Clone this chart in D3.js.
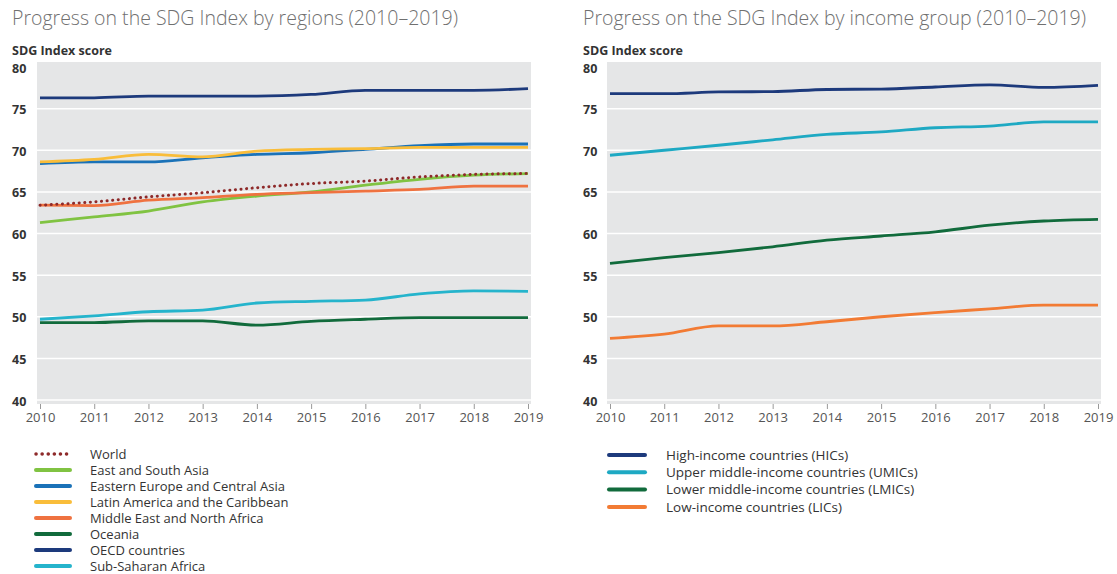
<!DOCTYPE html>
<html>
<head>
<meta charset="utf-8">
<script src="https://cdn.jsdelivr.net/npm/d3@7"></script>
<style>
  body { margin: 0; background: #fff; }
  svg { display: block; font-family: "Open Sans", "Noto Sans", sans-serif; }
</style>
</head>
<body>
<div id="svg-container"></div>
<script>
////////////////////////////////////////////////////////////////////
////////////////////////////  Data  ////////////////////////////////
const years = [2010, 2011, 2012, 2013, 2014, 2015, 2016, 2017, 2018, 2019];
const yTicks = [40, 45, 50, 55, 60, 65, 70, 75, 80];

// regions
const regionNames = [
  "World",
  "East and South Asia",
  "Eastern Europe and Central Asia",
  "Latin America and the Caribbean",
  "Middle East and North Africa",
  "Oceania",
  "OECD countries",
  "Sub-Saharan Africa",
];
const world = [63.4, 63.8, 64.4, 64.9, 65.5, 66.0, 66.3, 66.8, 67.1, 67.2];
const eastSouthAsia = [61.3, 62.0, 62.7, 63.8, 64.5, 65.0, 65.8, 66.5, 67.0, 67.2];
const easternEurope = [68.4, 68.6, 68.6, 69.1, 69.5, 69.7, 70.1, 70.55, 70.75, 70.75];
const latinAmerica = [68.6, 68.9, 69.5, 69.2, 69.9, 70.1, 70.2, 70.35, 70.35, 70.35];
const middleEast = [63.4, 63.35, 64.0, 64.3, 64.7, 64.9, 65.1, 65.3, 65.7, 65.7];
const oceania = [49.3, 49.3, 49.5, 49.5, 49.0, 49.45, 49.7, 49.9, 49.9, 49.9];
const oecd = [76.3, 76.3, 76.5, 76.5, 76.5, 76.7, 77.2, 77.2, 77.2, 77.4];
const subSaharan = [49.7, 50.1, 50.6, 50.8, 51.65, 51.85, 52.0, 52.75, 53.1, 53.05];

// income groups
const incomeNames = [
  "High-income countries (HICs)",
  "Upper middle-income countries (UMICs)",
  "Lower middle-income countries (LMICs)",
  "Low-income countries (LICs)",
];
const hics = [76.8, 76.8, 77.0, 77.05, 77.3, 77.35, 77.6, 77.85, 77.55, 77.8];
const umics = [69.4, 70.0, 70.6, 71.25, 71.9, 72.2, 72.7, 72.9, 73.4, 73.4];
const lmics = [56.4, 57.1, 57.7, 58.4, 59.2, 59.7, 60.2, 61.0, 61.5, 61.7];
const lics = [47.4, 47.9, 48.9, 48.9, 49.4, 50.0, 50.5, 50.95, 51.4, 51.4];

////////////////////////////////////////////////////////////////////
////////////////////////////  Init  ////////////////////////////////
const width = 1117;
const height = 574;

const svg = d3
  .select("#svg-container")
  .append("svg")
  .attr("width", width)
  .attr("height", height);

const colors = {
  world: "#8e2a2a",
  green: "#80c342",
  blue: "#1a72b8",
  yellow: "#f9bd3a",
  orange: "#ef7240",
  darkGreen: "#116b3c",
  navy: "#1d3a7c",
  cyan: "#25b4cc",
};

const leftSeries = [
  { name: regionNames[1], values: eastSouthAsia, color: colors.green },
  { name: regionNames[2], values: easternEurope, color: colors.blue },
  { name: regionNames[3], values: latinAmerica, color: colors.yellow },
  { name: regionNames[4], values: middleEast, color: colors.orange },
  { name: regionNames[5], values: oceania, color: colors.darkGreen },
  { name: regionNames[6], values: oecd, color: colors.navy },
  { name: regionNames[7], values: subSaharan, color: colors.cyan },
  { name: regionNames[0], values: world, color: colors.world, dotted: true },
];
const leftLegend = [leftSeries[7], ...leftSeries.slice(0, 7)];

const rightSeries = [
  { name: incomeNames[0], values: hics, color: colors.navy },
  { name: incomeNames[1], values: umics, color: "#1ea9c3" },
  { name: incomeNames[2], values: lmics, color: colors.darkGreen },
  { name: incomeNames[3], values: lics, color: "#f27b34" },
];

////////////////////////////////////////////////////////////////////
////////////////////////////  Panel  ///////////////////////////////
function drawPanel(opts) {
  const g = svg.append("g");

  const xScale = d3.scaleLinear().domain([2010, 2019]).range([opts.x0, opts.x1]);
  const yScale = d3.scaleLinear().domain([40, 80]).range([400, 67]);

  // title
  g.append("text")
    .attr("x", opts.left)
    .attr("y", 25)
    .attr("fill", "#707070")
    .attr("font-size", 19.5)
    .attr("font-weight", 300)
    .text(opts.title);

  g.append("text")
    .attr("x", opts.left)
    .attr("y", 55)
    .attr("fill", "#333")
    .attr("font-size", 12.5)
    .attr("font-weight", 700)
    .text("SDG Index score");

  // background
  g.append("rect")
    .attr("x", opts.x0 - 3)
    .attr("y", 62)
    .attr("width", opts.x1 - opts.x0 + 6)
    .attr("height", 342)
    .attr("fill", "#e5e6e7");

  // gridlines
  g.selectAll(".grid")
    .data(yTicks.filter((d) => d < 80))
    .enter()
    .append("line")
    .attr("x1", opts.x0 - 3)
    .attr("x2", opts.x1 + 3)
    .attr("y1", (d) => yScale(d))
    .attr("y2", (d) => yScale(d))
    .attr("stroke", "#fff")
    .attr("stroke-width", 1.5);

  // y axis
  const yAxis = g
    .append("g")
    .attr("transform", `translate(${opts.left},0)`)
    .call(d3.axisLeft(yScale).tickValues(yTicks).tickSize(0));
  yAxis.select(".domain").remove();
  yAxis
    .selectAll("text")
    .attr("x", 0)
    .attr("dy", "0.4em")
    .attr("text-anchor", "start")
    .attr("fill", "#333")
    .attr("font-size", 12.5)
    .attr("font-weight", 700)
    .attr("font-family", "Open Sans, sans-serif");

  // x axis
  const xAxis = g
    .append("g")
    .attr("transform", "translate(0,404)")
    .call(
      d3
        .axisBottom(xScale)
        .tickValues(years)
        .tickFormat(d3.format("d"))
        .tickSize(5)
        .tickPadding(4)
    );
  xAxis.select(".domain").remove();
  xAxis.selectAll("line").attr("stroke", "#999");
  xAxis
    .selectAll("text")
    .attr("fill", "#555")
    .attr("font-size", 13)
    .attr("font-family", "Open Sans, sans-serif");

  // lines
  const lineGenerator = d3
    .line()
    .x((d, i) => xScale(years[i]))
    .y((d) => yScale(d))
    .curve(d3.curveMonotoneX);

  opts.series.forEach((s) => {
    const p = g
      .append("path")
      .datum(s.values)
      .attr("d", lineGenerator)
      .attr("fill", "none")
      .attr("stroke", s.color)
      .attr("stroke-width", s.dotted ? 3 : 2.8)
      .attr("stroke-linejoin", "round");
    if (s.dotted) {
      p.attr("stroke-dasharray", "0.1 5.5").attr("stroke-linecap", "round");
    }
  });

  // legend
  const leg = g
    .selectAll(".legend")
    .data(opts.legend)
    .enter()
    .append("g")
    .attr("transform", (d, i) => `translate(${opts.legX},${opts.legY + i * opts.legStep})`);

  leg
    .append("line")
    .attr("x1", 0)
    .attr("x2", opts.legW)
    .attr("stroke", (d) => d.color)
    .attr("stroke-width", (d) => (d.dotted ? 3.5 : 4))
    .attr("stroke-linecap", "round")
    .attr("stroke-dasharray", (d) => (d.dotted ? "0.1 6" : null));

  leg
    .append("text")
    .attr("x", opts.legText)
    .attr("dy", "0.35em")
    .attr("fill", "#333")
    .attr("font-size", opts.legFont)
    .text((d) => d.name);
}

drawPanel({
  title: "Progress on the SDG Index by regions (2010\u20132019)",
  left: 12,
  x0: 40,
  x1: 528,
  series: leftSeries,
  legend: leftLegend,
  legX: 36,
  legY: 454,
  legStep: 16,
  legW: 34,
  legText: 54,
  legFont: 13,
});

drawPanel({
  title: "Progress on the SDG Index by income group (2010\u20132019)",
  left: 583,
  x0: 610,
  x1: 1098,
  series: rightSeries,
  legend: rightSeries,
  legX: 609,
  legY: 455,
  legStep: 17.3,
  legW: 36,
  legText: 57,
  legFont: 13.5,
});
</script>
</body>
</html>
